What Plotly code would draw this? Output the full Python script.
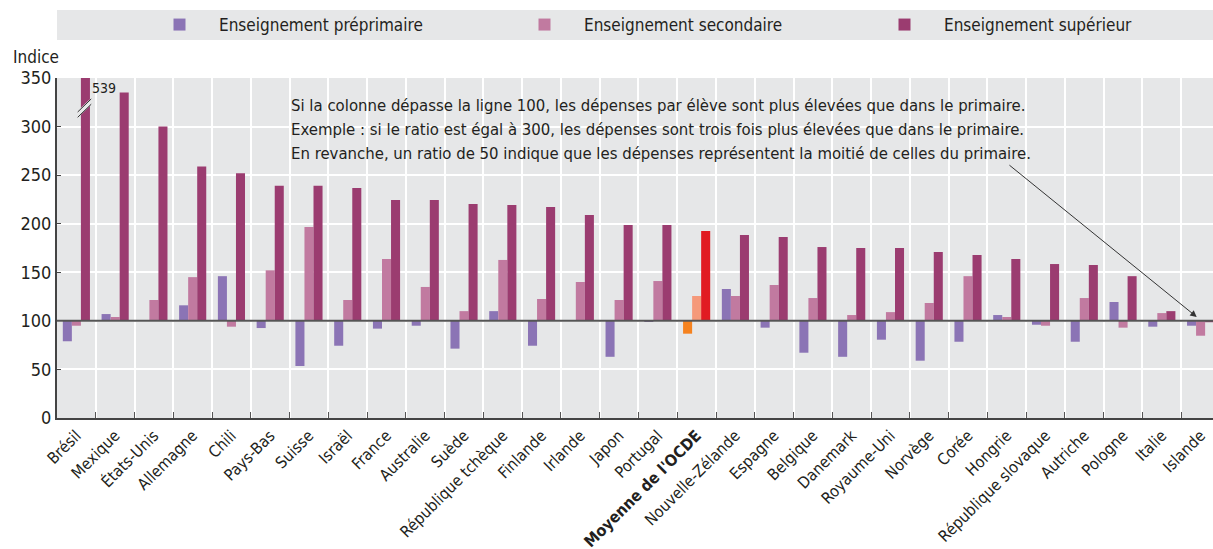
import plotly.graph_objects as go

categories = ["Brésil", "Mexique", "États-Unis", "Allemagne", "Chili", "Pays-Bas", "Suisse",
              "Israël", "France", "Australie", "Suède", "République tchèque", "Finlande",
              "Irlande", "Japon", "Portugal", "<b>Moyenne de l'OCDE</b>", "Nouvelle-Zélande",
              "Espagne", "Belgique", "Danemark", "Royaume-Uni", "Norvège", "Corée", "Hongrie",
              "République slovaque", "Autriche", "Pologne", "Italie", "Islande"]

preprimaire = [79, 107, 100.5, 116, 146, 92.6, 53.5, 74.4, 92, 95, 71.4, 110, 74.4, None,
               63, 99.5, 86.8, 132.8, 93, 67.2, 63, 80.6, 59, 78.5, 106, 96, 78.5, 119.4, 94, 95]
secondaire = [95, 104, 121.5, 145, 94, 152, 196.6, 121.5, 163.7, 134.9, 110, 162.7, 122.5,
              140, 121.5, 141, 125.6, 125.6, 136.9, 123.5, 106, 109, 118.4, 146, 104, 95,
              123.5, 93, 108, 84.7]
superieur = [539, 335, 300, 259, 252, 239, 239, 236.8, 224.4, 224.4, 220.3, 219.3, 217.2,
             209, 198.7, 198.7, 192.5, 188.4, 186.3, 176, 175, 175, 170.9, 167.8, 163.7,
             158.5, 157.5, 146, 110, 98.6]

series_names = ["Enseignement préprimaire", "Enseignement secondaire", "Enseignement supérieur"]
base_colors = ["#8B74B5", "#C17AA0", "#9B3C70"]
oecd_colors = ["#F5821F", "#F5997A", "#E11B22"]
legend_ids = ["legend", "legend2", "legend3"]
legend_px = [140, 505, 865]
BASE = 100
oecd_idx = categories.index("<b>Moyenne de l'OCDE</b>")

FONT = "Liberation Sans Narrow, Arial Narrow, DejaVu Sans Condensed, sans-serif"
TXT = "#231F20"
ML, PW, MT, PH = 57, 1156, 78, 340

fig = go.Figure()
for name, vals, col, ocol, lid in zip(series_names, [preprimaire, secondaire, superieur],
                                      base_colors, oecd_colors, legend_ids):
    colors = [ocol if i == oecd_idx else col for i in range(len(categories))]
    fig.add_trace(go.Bar(
        x=categories,
        y=[None if v is None else v - BASE for v in vals],
        base=BASE,
        name=name,
        legend=lid,
        marker=dict(color=colors, line=dict(width=0)),
    ))

# legend band
fig.add_shape(type="rect", xref="paper", yref="paper", x0=0, x1=1.0,
              y0=(MT + PH - 40) / PH, y1=(MT + PH - 10) / PH,
              fillcolor="#E6E7E8", line=dict(width=0), layer="below")

# reference line at 100
fig.add_shape(type="line", xref="paper", yref="y", x0=0, x1=1, y0=BASE, y1=BASE,
              line=dict(color="#555555", width=2), layer="above")

# axis break marks on Brésil supérieur bar
bx = 0.233
fig.add_shape(type="line", xref="x", yref="y", x0=bx - 0.2, x1=bx + 0.15, y0=312.5, y1=326,
              line=dict(color="#E6E7E8", width=5), layer="above")
for dy in (0, -5.5):
    fig.add_shape(type="line", xref="x", yref="y", x0=bx - 0.2, x1=bx + 0.15,
                  y0=315 + dy, y1=328.5 + dy, line=dict(color="#333333", width=1), layer="above")

fig.add_annotation(x=bx + 0.13, y=340, xref="x", yref="y", text=str(superieur[0]),
                   showarrow=False, xanchor="left", yanchor="middle",
                   font=dict(family=FONT, size=14, color=TXT))

lines = ["Si la colonne dépasse la ligne 100, les dépenses par élève sont plus élevées que dans le primaire.",
         "Exemple : si le ratio est égal à 300, les dépenses sont trois fois plus élevées que dans le primaire.",
         "En revanche, un ratio de 50 indique que les dépenses représentent la moitié de celles du primaire."]
for k, t in enumerate(lines):
    fig.add_annotation(x=(289 - ML) / PW, y=(MT + PH - 105 - 24 * k) / PH, xref="paper", yref="paper",
                       text=t, showarrow=False, xanchor="left", yanchor="middle",
                       font=dict(family=FONT, size=16.6, color=TXT))

# arrow from the note to Islande
fig.add_annotation(x=28.9, y=104, xref="x", yref="y", ax=24.03, ay=261.5, axref="x", ayref="y",
                   text="", showarrow=True, arrowhead=2, arrowsize=1.3, arrowwidth=1, arrowcolor="#333333")

fig.add_annotation(x=(11 - ML) / PW, y=(MT + PH - 57) / PH, xref="paper", yref="paper", text="Indice",
                   showarrow=False, xanchor="left", yanchor="middle",
                   font=dict(family=FONT, size=17, color=TXT))

legend_common = dict(orientation="h", yanchor="middle", xanchor="left", bgcolor="rgba(0,0,0,0)",
                     itemwidth=69, font=dict(family=FONT, size=17, color=TXT),
                     y=(MT + PH - 25) / PH)
legends = {lid: dict(legend_common, x=(px - ML) / PW) for lid, px in zip(legend_ids, legend_px)}

fig.update_layout(
    width=1213, height=549,
    margin=dict(l=ML, r=0, t=MT, b=549 - MT - PH, autoexpand=False),
    paper_bgcolor="white", plot_bgcolor="#E6E7E8",
    barmode="group", bargap=0.3, bargroupgap=0,
    font=dict(family=FONT, size=17, color=TXT),
    showlegend=True,
    **legends,
    xaxis=dict(type="category", range=[-0.5, 29.32], tickson="boundaries", ticks="inside",
               ticklen=6, tickcolor="#555555", showgrid=True, gridcolor="white", gridwidth=2,
               tickangle=-45, showline=True, linecolor="#444444", linewidth=2,
               tickfont=dict(family=FONT, size=16, color=TXT)),
    yaxis=dict(range=[0, 350], tickvals=[0, 50, 100, 150, 200, 250, 300, 350], showgrid=True,
               gridcolor="white", gridwidth=2, zeroline=False, showline=True, linecolor="#444444",
               linewidth=2, ticks="inside", ticklen=4, tickcolor="#444444",
               tickfont=dict(family=FONT, size=18, color=TXT)),
)

fig.write_html("out.html", config={"displayModeBar": False},
               post_script="document.body.style.margin='0';")
